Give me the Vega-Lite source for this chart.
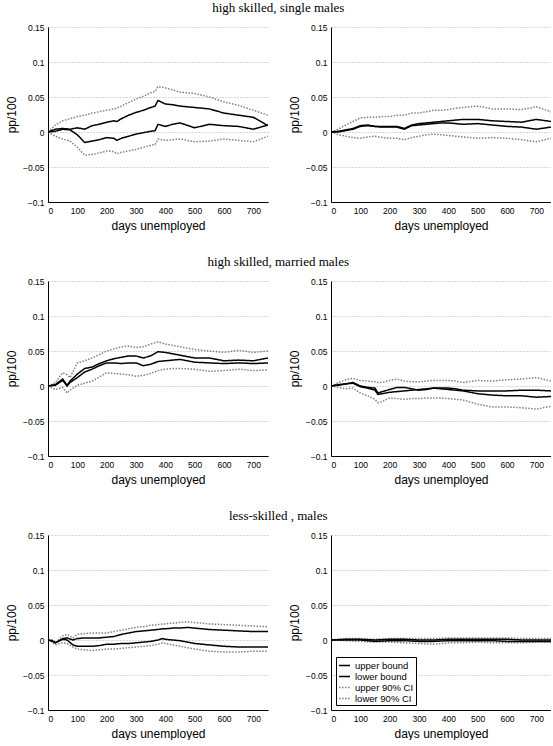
{
"$schema": "https://vega.github.io/schema/vega-lite/v6.json",
"padding": {"left": 5, "top": 2, "right": 0, "bottom": 0},
"config": {
  "view": {"stroke": null},
  "font": "Liberation Sans",
  "axis": {"labelFont": "Liberation Sans", "titleFont": "Liberation Sans", "labelFontSize": 8.5, "titleFontSize": 12, "titleFontWeight": "normal", "labelColor": "#000", "titleColor": "#000", "domainColor": "#000", "domainWidth": 1, "ticks": false, "labelPadding": 4},
  "title": {"font": "Liberation Serif", "fontSize": 13, "fontWeight": "normal", "color": "#000", "anchor": "middle", "offset": 8},
  "legend": {"labelFont": "Liberation Sans"}
},
"data": {"values": [
{"p":1,"d":0,"ub":0,"lb":0,"uc":0,"lc":0},
{"p":1,"d":25,"ub":0.004,"lb":0.001,"uc":0.010,"lc":-0.006},
{"p":1,"d":50,"ub":0.005,"lb":0.004,"uc":0.016,"lc":-0.010},
{"p":1,"d":75,"ub":0.004,"lb":0.003,"uc":0.019,"lc":-0.013},
{"p":1,"d":100,"ub":0.006,"lb":-0.004,"uc":0.022,"lc":-0.022},
{"p":1,"d":125,"ub":0.004,"lb":-0.015,"uc":0.024,"lc":-0.033},
{"p":1,"d":150,"ub":0.009,"lb":-0.013,"uc":0.027,"lc":-0.032},
{"p":1,"d":175,"ub":0.011,"lb":-0.011,"uc":0.029,"lc":-0.030},
{"p":1,"d":200,"ub":0.014,"lb":-0.008,"uc":0.031,"lc":-0.027},
{"p":1,"d":225,"ub":0.016,"lb":-0.009,"uc":0.033,"lc":-0.028},
{"p":1,"d":235,"ub":0.015,"lb":-0.012,"uc":0.034,"lc":-0.031},
{"p":1,"d":250,"ub":0.019,"lb":-0.009,"uc":0.037,"lc":-0.029},
{"p":1,"d":275,"ub":0.024,"lb":-0.006,"uc":0.042,"lc":-0.027},
{"p":1,"d":300,"ub":0.028,"lb":-0.003,"uc":0.047,"lc":-0.025},
{"p":1,"d":325,"ub":0.031,"lb":-0.001,"uc":0.051,"lc":-0.022},
{"p":1,"d":350,"ub":0.035,"lb":0.001,"uc":0.056,"lc":-0.019},
{"p":1,"d":365,"ub":0.037,"lb":0.002,"uc":0.058,"lc":-0.018},
{"p":1,"d":375,"ub":0.045,"lb":0.011,"uc":0.065,"lc":-0.010},
{"p":1,"d":400,"ub":0.040,"lb":0.008,"uc":0.063,"lc":-0.012},
{"p":1,"d":425,"ub":0.039,"lb":0.011,"uc":0.060,"lc":-0.011},
{"p":1,"d":450,"ub":0.037,"lb":0.013,"uc":0.057,"lc":-0.010},
{"p":1,"d":500,"ub":0.035,"lb":0.006,"uc":0.055,"lc":-0.014},
{"p":1,"d":550,"ub":0.033,"lb":0.011,"uc":0.050,"lc":-0.013},
{"p":1,"d":600,"ub":0.027,"lb":0.009,"uc":0.043,"lc":-0.010},
{"p":1,"d":650,"ub":0.024,"lb":0.008,"uc":0.038,"lc":-0.012},
{"p":1,"d":700,"ub":0.021,"lb":0.004,"uc":0.031,"lc":-0.014},
{"p":1,"d":750,"ub":0.009,"lb":0.010,"uc":0.024,"lc":-0.006},
{"p":2,"d":0,"ub":0,"lb":0,"uc":0,"lc":0},
{"p":2,"d":25,"ub":0.001,"lb":0.000,"uc":0.004,"lc":-0.004},
{"p":2,"d":50,"ub":0.003,"lb":0.002,"uc":0.010,"lc":-0.006},
{"p":2,"d":75,"ub":0.005,"lb":0.004,"uc":0.015,"lc":-0.008},
{"p":2,"d":100,"ub":0.009,"lb":0.008,"uc":0.020,"lc":-0.009},
{"p":2,"d":125,"ub":0.010,"lb":0.009,"uc":0.021,"lc":-0.007},
{"p":2,"d":150,"ub":0.008,"lb":0.008,"uc":0.021,"lc":-0.006},
{"p":2,"d":175,"ub":0.008,"lb":0.007,"uc":0.022,"lc":-0.008},
{"p":2,"d":200,"ub":0.008,"lb":0.007,"uc":0.022,"lc":-0.009},
{"p":2,"d":225,"ub":0.008,"lb":0.007,"uc":0.024,"lc":-0.009},
{"p":2,"d":250,"ub":0.005,"lb":0.004,"uc":0.024,"lc":-0.011},
{"p":2,"d":275,"ub":0.010,"lb":0.009,"uc":0.027,"lc":-0.008},
{"p":2,"d":300,"ub":0.012,"lb":0.010,"uc":0.027,"lc":-0.006},
{"p":2,"d":325,"ub":0.013,"lb":0.011,"uc":0.029,"lc":-0.004},
{"p":2,"d":350,"ub":0.014,"lb":0.012,"uc":0.031,"lc":-0.003},
{"p":2,"d":375,"ub":0.015,"lb":0.013,"uc":0.031,"lc":-0.004},
{"p":2,"d":400,"ub":0.016,"lb":0.013,"uc":0.032,"lc":-0.005},
{"p":2,"d":425,"ub":0.017,"lb":0.012,"uc":0.034,"lc":-0.006},
{"p":2,"d":450,"ub":0.018,"lb":0.011,"uc":0.035,"lc":-0.007},
{"p":2,"d":500,"ub":0.018,"lb":0.012,"uc":0.037,"lc":-0.009},
{"p":2,"d":550,"ub":0.016,"lb":0.010,"uc":0.033,"lc":-0.008},
{"p":2,"d":600,"ub":0.015,"lb":0.008,"uc":0.033,"lc":-0.009},
{"p":2,"d":650,"ub":0.014,"lb":0.007,"uc":0.032,"lc":-0.011},
{"p":2,"d":700,"ub":0.018,"lb":0.004,"uc":0.036,"lc":-0.014},
{"p":2,"d":750,"ub":0.015,"lb":0.007,"uc":0.029,"lc":-0.009},
{"p":3,"d":0,"ub":0,"lb":0,"uc":0,"lc":0},
{"p":3,"d":25,"ub":0.002,"lb":0.001,"uc":0.005,"lc":-0.005},
{"p":3,"d":50,"ub":0.010,"lb":0.008,"uc":0.019,"lc":-0.002},
{"p":3,"d":65,"ub":0.001,"lb":0.000,"uc":0.016,"lc":-0.010},
{"p":3,"d":75,"ub":0.007,"lb":0.005,"uc":0.012,"lc":-0.006},
{"p":3,"d":100,"ub":0.017,"lb":0.012,"uc":0.033,"lc":0.001},
{"p":3,"d":125,"ub":0.025,"lb":0.020,"uc":0.036,"lc":0.004},
{"p":3,"d":150,"ub":0.027,"lb":0.024,"uc":0.040,"lc":0.007},
{"p":3,"d":175,"ub":0.032,"lb":0.029,"uc":0.045,"lc":0.013},
{"p":3,"d":200,"ub":0.036,"lb":0.033,"uc":0.050,"lc":0.019},
{"p":3,"d":225,"ub":0.039,"lb":0.033,"uc":0.053,"lc":0.018},
{"p":3,"d":250,"ub":0.041,"lb":0.032,"uc":0.056,"lc":0.017},
{"p":3,"d":275,"ub":0.043,"lb":0.033,"uc":0.057,"lc":0.016},
{"p":3,"d":300,"ub":0.043,"lb":0.033,"uc":0.055,"lc":0.014},
{"p":3,"d":325,"ub":0.040,"lb":0.029,"uc":0.056,"lc":0.015},
{"p":3,"d":350,"ub":0.043,"lb":0.031,"uc":0.060,"lc":0.018},
{"p":3,"d":375,"ub":0.049,"lb":0.035,"uc":0.063,"lc":0.022},
{"p":3,"d":400,"ub":0.048,"lb":0.036,"uc":0.060,"lc":0.024},
{"p":3,"d":425,"ub":0.046,"lb":0.037,"uc":0.058,"lc":0.025},
{"p":3,"d":450,"ub":0.044,"lb":0.038,"uc":0.056,"lc":0.025},
{"p":3,"d":500,"ub":0.040,"lb":0.034,"uc":0.052,"lc":0.024},
{"p":3,"d":550,"ub":0.040,"lb":0.033,"uc":0.050,"lc":0.021},
{"p":3,"d":600,"ub":0.036,"lb":0.032,"uc":0.048,"lc":0.022},
{"p":3,"d":650,"ub":0.037,"lb":0.033,"uc":0.051,"lc":0.024},
{"p":3,"d":700,"ub":0.036,"lb":0.032,"uc":0.048,"lc":0.022},
{"p":3,"d":750,"ub":0.040,"lb":0.033,"uc":0.050,"lc":0.023},
{"p":4,"d":0,"ub":0,"lb":0,"uc":0,"lc":0},
{"p":4,"d":25,"ub":0.002,"lb":0.001,"uc":0.005,"lc":-0.002},
{"p":4,"d":50,"ub":0.003,"lb":0.003,"uc":0.009,"lc":-0.004},
{"p":4,"d":75,"ub":0.005,"lb":0.004,"uc":0.011,"lc":-0.003},
{"p":4,"d":100,"ub":0.000,"lb":-0.001,"uc":0.008,"lc":-0.010},
{"p":4,"d":125,"ub":-0.002,"lb":-0.003,"uc":0.007,"lc":-0.014},
{"p":4,"d":150,"ub":-0.003,"lb":-0.006,"uc":0.006,"lc":-0.019},
{"p":4,"d":160,"ub":-0.010,"lb":-0.012,"uc":0.005,"lc":-0.024},
{"p":4,"d":175,"ub":-0.008,"lb":-0.011,"uc":0.005,"lc":-0.022},
{"p":4,"d":200,"ub":-0.005,"lb":-0.009,"uc":0.008,"lc":-0.017},
{"p":4,"d":225,"ub":-0.002,"lb":-0.008,"uc":0.010,"lc":-0.018},
{"p":4,"d":250,"ub":-0.002,"lb":-0.007,"uc":0.007,"lc":-0.019},
{"p":4,"d":275,"ub":-0.004,"lb":-0.006,"uc":0.006,"lc":-0.018},
{"p":4,"d":300,"ub":-0.006,"lb":-0.005,"uc":0.006,"lc":-0.018},
{"p":4,"d":325,"ub":-0.005,"lb":-0.004,"uc":0.007,"lc":-0.017},
{"p":4,"d":350,"ub":-0.003,"lb":-0.003,"uc":0.008,"lc":-0.017},
{"p":4,"d":375,"ub":-0.003,"lb":-0.004,"uc":0.008,"lc":-0.017},
{"p":4,"d":400,"ub":-0.003,"lb":-0.005,"uc":0.008,"lc":-0.018},
{"p":4,"d":425,"ub":-0.004,"lb":-0.006,"uc":0.007,"lc":-0.019},
{"p":4,"d":450,"ub":-0.006,"lb":-0.007,"uc":0.005,"lc":-0.020},
{"p":4,"d":500,"ub":-0.007,"lb":-0.011,"uc":0.008,"lc":-0.026},
{"p":4,"d":550,"ub":-0.007,"lb":-0.013,"uc":0.007,"lc":-0.030},
{"p":4,"d":600,"ub":-0.007,"lb":-0.014,"uc":0.009,"lc":-0.030},
{"p":4,"d":650,"ub":-0.006,"lb":-0.014,"uc":0.010,"lc":-0.031},
{"p":4,"d":700,"ub":-0.006,"lb":-0.016,"uc":0.012,"lc":-0.033},
{"p":4,"d":750,"ub":-0.007,"lb":-0.015,"uc":0.007,"lc":-0.029},
{"p":5,"d":0,"ub":0,"lb":0,"uc":0,"lc":0},
{"p":5,"d":15,"ub":-0.001,"lb":-0.002,"uc":0.000,"lc":-0.003},
{"p":5,"d":25,"ub":-0.004,"lb":-0.004,"uc":-0.004,"lc":-0.007},
{"p":5,"d":50,"ub":0.002,"lb":0.001,"uc":0.006,"lc":-0.004},
{"p":5,"d":65,"ub":0.003,"lb":0.000,"uc":0.008,"lc":-0.005},
{"p":5,"d":85,"ub":0.000,"lb":-0.007,"uc":0.003,"lc":-0.010},
{"p":5,"d":100,"ub":0.002,"lb":-0.009,"uc":0.008,"lc":-0.013},
{"p":5,"d":125,"ub":0.003,"lb":-0.009,"uc":0.009,"lc":-0.014},
{"p":5,"d":150,"ub":0.003,"lb":-0.009,"uc":0.010,"lc":-0.015},
{"p":5,"d":175,"ub":0.003,"lb":-0.008,"uc":0.010,"lc":-0.014},
{"p":5,"d":200,"ub":0.004,"lb":-0.006,"uc":0.010,"lc":-0.013},
{"p":5,"d":225,"ub":0.005,"lb":-0.006,"uc":0.012,"lc":-0.013},
{"p":5,"d":250,"ub":0.008,"lb":-0.005,"uc":0.014,"lc":-0.012},
{"p":5,"d":275,"ub":0.010,"lb":-0.005,"uc":0.016,"lc":-0.011},
{"p":5,"d":300,"ub":0.012,"lb":-0.004,"uc":0.018,"lc":-0.010},
{"p":5,"d":325,"ub":0.013,"lb":-0.003,"uc":0.019,"lc":-0.009},
{"p":5,"d":350,"ub":0.014,"lb":-0.002,"uc":0.021,"lc":-0.008},
{"p":5,"d":375,"ub":0.015,"lb":0.000,"uc":0.022,"lc":-0.006},
{"p":5,"d":390,"ub":0.016,"lb":0.002,"uc":0.023,"lc":-0.004},
{"p":5,"d":400,"ub":0.016,"lb":0.001,"uc":0.023,"lc":-0.005},
{"p":5,"d":425,"ub":0.017,"lb":0.000,"uc":0.024,"lc":-0.007},
{"p":5,"d":450,"ub":0.017,"lb":-0.001,"uc":0.025,"lc":-0.009},
{"p":5,"d":475,"ub":0.018,"lb":-0.003,"uc":0.026,"lc":-0.011},
{"p":5,"d":500,"ub":0.017,"lb":-0.005,"uc":0.025,"lc":-0.013},
{"p":5,"d":550,"ub":0.015,"lb":-0.007,"uc":0.023,"lc":-0.016},
{"p":5,"d":600,"ub":0.014,"lb":-0.009,"uc":0.022,"lc":-0.017},
{"p":5,"d":650,"ub":0.013,"lb":-0.010,"uc":0.021,"lc":-0.017},
{"p":5,"d":700,"ub":0.012,"lb":-0.010,"uc":0.020,"lc":-0.016},
{"p":5,"d":750,"ub":0.012,"lb":-0.010,"uc":0.019,"lc":-0.016},
{"p":6,"d":0,"ub":0,"lb":0,"uc":0,"lc":0},
{"p":6,"d":50,"ub":0.001,"lb":0.000,"uc":0.002,"lc":-0.001},
{"p":6,"d":100,"ub":0.001,"lb":0.000,"uc":0.002,"lc":-0.002},
{"p":6,"d":150,"ub":0.000,"lb":-0.002,"uc":0.001,"lc":-0.003},
{"p":6,"d":200,"ub":0.001,"lb":-0.001,"uc":0.002,"lc":-0.003},
{"p":6,"d":250,"ub":0.001,"lb":-0.001,"uc":0.002,"lc":-0.004},
{"p":6,"d":300,"ub":0.000,"lb":-0.002,"uc":0.002,"lc":-0.005},
{"p":6,"d":350,"ub":0.000,"lb":-0.002,"uc":0.002,"lc":-0.006},
{"p":6,"d":400,"ub":0.001,"lb":-0.001,"uc":0.003,"lc":-0.004},
{"p":6,"d":450,"ub":0.001,"lb":-0.001,"uc":0.003,"lc":-0.004},
{"p":6,"d":500,"ub":0.001,"lb":-0.001,"uc":0.003,"lc":-0.003},
{"p":6,"d":550,"ub":0.001,"lb":-0.001,"uc":0.003,"lc":-0.004},
{"p":6,"d":600,"ub":0.001,"lb":-0.002,"uc":0.003,"lc":-0.004},
{"p":6,"d":650,"ub":0.000,"lb":-0.002,"uc":0.002,"lc":-0.004},
{"p":6,"d":700,"ub":0.000,"lb":-0.002,"uc":0.002,"lc":-0.003},
{"p":6,"d":750,"ub":0.000,"lb":-0.002,"uc":0.002,"lc":-0.003}
]},
"transform": [{"fold": ["uc", "lc", "ub", "lb"], "as": ["s", "v"]}],
"spacing": 24,
"resolve": {"scale": {"color": "independent", "strokeDash": "independent", "strokeWidth": "independent"}, "legend": {"color": "independent", "strokeDash": "independent", "strokeWidth": "independent"}},
"vconcat": [
{
 "title": {"text": "high skilled, single males"},
 "spacing": 20,
 "resolve": {"scale": {"color": "independent", "strokeDash": "independent", "strokeWidth": "independent"}, "legend": {"color": "independent", "strokeDash": "independent", "strokeWidth": "independent"}},
 "hconcat": [
  {"width": 220, "height": 175, "transform": [{"filter": "datum.p == 1"}], "mark": {"type": "line", "clip": true},
   "encoding": {
    "x": {"field": "d", "type": "quantitative", "scale": {"domain": [0, 750], "nice": false, "zero": false}, "axis": {"values": [0,100,200,300,400,500,600,700], "title": "days unemployed", "grid": false, "titlePadding": 6}},
    "y": {"field": "v", "type": "quantitative", "scale": {"domain": [-0.1, 0.15], "nice": false}, "axis": {"values": [-0.1,-0.05,0,0.05,0.1,0.15], "format": ".2~f", "title": "pp/100", "grid": true, "gridDash": [1,2], "gridColor": "#999", "gridWidth": 0.8, "titlePadding": 4}},
    "color": {"field": "s", "type": "nominal", "scale": {"domain": ["ub","lb","uc","lc"], "range": ["#000000","#000000","#808080","#808080"]}, "legend": null},
    "strokeDash": {"field": "s", "type": "nominal", "scale": {"domain": ["ub","lb","uc","lc"], "range": [[1,0],[1,0],[1.5,1.5],[1.5,1.5]]}, "legend": null},
    "strokeWidth": {"field": "s", "type": "nominal", "scale": {"domain": ["ub","lb","uc","lc"], "range": [1.5,1.5,0.9,0.9]}, "legend": null}
   }},
  {"width": 220, "height": 175, "transform": [{"filter": "datum.p == 2"}], "mark": {"type": "line", "clip": true},
   "encoding": {
    "x": {"field": "d", "type": "quantitative", "scale": {"domain": [0, 750], "nice": false, "zero": false}, "axis": {"values": [0,100,200,300,400,500,600,700], "title": "days unemployed", "grid": false, "titlePadding": 6}},
    "y": {"field": "v", "type": "quantitative", "scale": {"domain": [-0.1, 0.15], "nice": false}, "axis": {"values": [-0.1,-0.05,0,0.05,0.1,0.15], "format": ".2~f", "title": "pp/100", "grid": true, "gridDash": [1,2], "gridColor": "#999", "gridWidth": 0.8, "titlePadding": 4}},
    "color": {"field": "s", "type": "nominal", "scale": {"domain": ["ub","lb","uc","lc"], "range": ["#000000","#000000","#808080","#808080"]}, "legend": null},
    "strokeDash": {"field": "s", "type": "nominal", "scale": {"domain": ["ub","lb","uc","lc"], "range": [[1,0],[1,0],[1.5,1.5],[1.5,1.5]]}, "legend": null},
    "strokeWidth": {"field": "s", "type": "nominal", "scale": {"domain": ["ub","lb","uc","lc"], "range": [1.5,1.5,0.9,0.9]}, "legend": null}
   }}
 ]
},
{
 "title": {"text": "high skilled, married males"},
 "spacing": 20,
 "resolve": {"scale": {"color": "independent", "strokeDash": "independent", "strokeWidth": "independent"}, "legend": {"color": "independent", "strokeDash": "independent", "strokeWidth": "independent"}},
 "hconcat": [
  {"width": 220, "height": 175, "transform": [{"filter": "datum.p == 3"}], "mark": {"type": "line", "clip": true},
   "encoding": {
    "x": {"field": "d", "type": "quantitative", "scale": {"domain": [0, 750], "nice": false, "zero": false}, "axis": {"values": [0,100,200,300,400,500,600,700], "title": "days unemployed", "grid": false, "titlePadding": 6}},
    "y": {"field": "v", "type": "quantitative", "scale": {"domain": [-0.1, 0.15], "nice": false}, "axis": {"values": [-0.1,-0.05,0,0.05,0.1,0.15], "format": ".2~f", "title": "pp/100", "grid": true, "gridDash": [1,2], "gridColor": "#999", "gridWidth": 0.8, "titlePadding": 4}},
    "color": {"field": "s", "type": "nominal", "scale": {"domain": ["ub","lb","uc","lc"], "range": ["#000000","#000000","#808080","#808080"]}, "legend": null},
    "strokeDash": {"field": "s", "type": "nominal", "scale": {"domain": ["ub","lb","uc","lc"], "range": [[1,0],[1,0],[1.5,1.5],[1.5,1.5]]}, "legend": null},
    "strokeWidth": {"field": "s", "type": "nominal", "scale": {"domain": ["ub","lb","uc","lc"], "range": [1.5,1.5,0.9,0.9]}, "legend": null}
   }},
  {"width": 220, "height": 175, "transform": [{"filter": "datum.p == 4"}], "mark": {"type": "line", "clip": true},
   "encoding": {
    "x": {"field": "d", "type": "quantitative", "scale": {"domain": [0, 750], "nice": false, "zero": false}, "axis": {"values": [0,100,200,300,400,500,600,700], "title": "days unemployed", "grid": false, "titlePadding": 6}},
    "y": {"field": "v", "type": "quantitative", "scale": {"domain": [-0.1, 0.15], "nice": false}, "axis": {"values": [-0.1,-0.05,0,0.05,0.1,0.15], "format": ".2~f", "title": "pp/100", "grid": true, "gridDash": [1,2], "gridColor": "#999", "gridWidth": 0.8, "titlePadding": 4}},
    "color": {"field": "s", "type": "nominal", "scale": {"domain": ["ub","lb","uc","lc"], "range": ["#000000","#000000","#808080","#808080"]}, "legend": null},
    "strokeDash": {"field": "s", "type": "nominal", "scale": {"domain": ["ub","lb","uc","lc"], "range": [[1,0],[1,0],[1.5,1.5],[1.5,1.5]]}, "legend": null},
    "strokeWidth": {"field": "s", "type": "nominal", "scale": {"domain": ["ub","lb","uc","lc"], "range": [1.5,1.5,0.9,0.9]}, "legend": null}
   }}
 ]
},
{
 "title": {"text": "less-skilled , males"},
 "spacing": 20,
 "resolve": {"scale": {"color": "independent", "strokeDash": "independent", "strokeWidth": "independent"}, "legend": {"color": "independent", "strokeDash": "independent", "strokeWidth": "independent"}},
 "hconcat": [
  {"width": 220, "height": 175, "transform": [{"filter": "datum.p == 5"}], "mark": {"type": "line", "clip": true},
   "encoding": {
    "x": {"field": "d", "type": "quantitative", "scale": {"domain": [0, 750], "nice": false, "zero": false}, "axis": {"values": [0,100,200,300,400,500,600,700], "title": "days unemployed", "grid": false, "titlePadding": 6}},
    "y": {"field": "v", "type": "quantitative", "scale": {"domain": [-0.1, 0.15], "nice": false}, "axis": {"values": [-0.1,-0.05,0,0.05,0.1,0.15], "format": ".2~f", "title": "pp/100", "grid": true, "gridDash": [1,2], "gridColor": "#999", "gridWidth": 0.8, "titlePadding": 4}},
    "color": {"field": "s", "type": "nominal", "scale": {"domain": ["ub","lb","uc","lc"], "range": ["#000000","#000000","#808080","#808080"]}, "legend": null},
    "strokeDash": {"field": "s", "type": "nominal", "scale": {"domain": ["ub","lb","uc","lc"], "range": [[1,0],[1,0],[1.5,1.5],[1.5,1.5]]}, "legend": null},
    "strokeWidth": {"field": "s", "type": "nominal", "scale": {"domain": ["ub","lb","uc","lc"], "range": [1.5,1.5,0.9,0.9]}, "legend": null}
   }},
  {"width": 220, "height": 175, "transform": [{"filter": "datum.p == 6"}], "mark": {"type": "line", "clip": true},
   "encoding": {
    "x": {"field": "d", "type": "quantitative", "scale": {"domain": [0, 750], "nice": false, "zero": false}, "axis": {"values": [0,100,200,300,400,500,600,700], "title": "days unemployed", "grid": false, "titlePadding": 6}},
    "y": {"field": "v", "type": "quantitative", "scale": {"domain": [-0.1, 0.15], "nice": false}, "axis": {"values": [-0.1,-0.05,0,0.05,0.1,0.15], "format": ".2~f", "title": "pp/100", "grid": true, "gridDash": [1,2], "gridColor": "#999", "gridWidth": 0.8, "titlePadding": 4}},
    "color": {"field": "s", "type": "nominal", "scale": {"domain": ["ub","lb","uc","lc"], "range": ["#000000","#000000","#808080","#808080"]},
      "legend": {"orient": "bottom-left", "title": null, "offset": 5, "padding": 2, "strokeColor": "#000", "fillColor": "#fff", "labelFontSize": 9.5, "labelColor": "#000", "symbolSize": 121, "symbolType": "stroke", "rowPadding": 0, "labelOffset": 4, "labelExpr": "{'ub': 'upper bound', 'lb': 'lower bound', 'uc': 'upper 90% CI', 'lc': 'lower 90% CI'}[datum.label]"}},
    "strokeDash": {"field": "s", "type": "nominal", "scale": {"domain": ["ub","lb","uc","lc"], "range": [[1,0],[1,0],[1.5,1.5],[1.5,1.5]]},
      "legend": {"orient": "bottom-left", "title": null, "offset": 5, "padding": 2, "strokeColor": "#000", "fillColor": "#fff", "labelFontSize": 9.5, "labelColor": "#000", "symbolSize": 121, "symbolType": "stroke", "rowPadding": 0, "labelOffset": 4, "labelExpr": "{'ub': 'upper bound', 'lb': 'lower bound', 'uc': 'upper 90% CI', 'lc': 'lower 90% CI'}[datum.label]"}},
    "strokeWidth": {"field": "s", "type": "nominal", "scale": {"domain": ["ub","lb","uc","lc"], "range": [1.5,1.5,0.9,0.9]},
      "legend": {"orient": "bottom-left", "title": null, "offset": 5, "padding": 2, "strokeColor": "#000", "fillColor": "#fff", "labelFontSize": 9.5, "labelColor": "#000", "symbolSize": 121, "symbolType": "stroke", "rowPadding": 0, "labelOffset": 4, "labelExpr": "{'ub': 'upper bound', 'lb': 'lower bound', 'uc': 'upper 90% CI', 'lc': 'lower 90% CI'}[datum.label]"}}
   }}
 ]
}
]
}
